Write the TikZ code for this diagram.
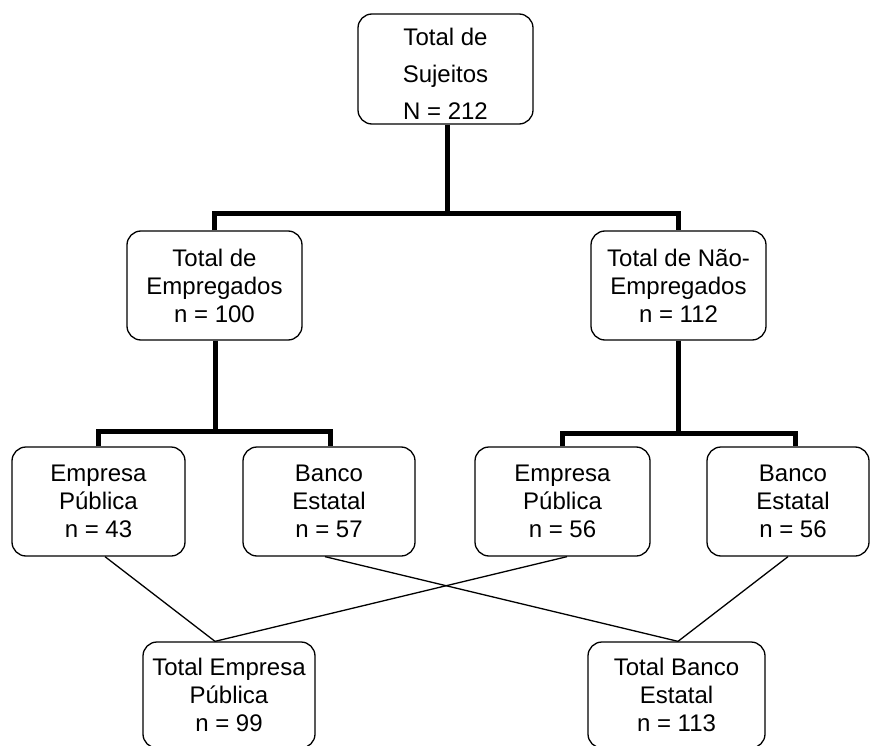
\documentclass[tikz,border=0pt]{standalone}
\usepackage{fontspec}
\setmainfont{Liberation Sans}
\usetikzlibrary{calc}
\begin{document}
\begin{tikzpicture}[x=1pt,y=-1pt,
  box/.style={draw,line width=1.3pt,rounded corners=14pt,inner sep=0pt,
    align=center,font=\fontsize{24}{28}\selectfont},
  txt/.style={inner sep=0pt,align=center},
  trunk/.style={line width=5pt},
  link/.style={line width=1.3pt}]
\useasboundingbox (0,0) rectangle (870,746);
\begin{scope}
\clip (0,0) rectangle (870,746);
% root
\node[box,minimum width=175pt,minimum height=110pt] (root) at (445.5,69) {};
\node[txt,font=\fontsize{24}{37}\selectfont] (roottxt) at (445.5,74) {Total de\\Sujeitos\\N = 212};
% second level
\node[box,minimum width=175pt,minimum height=109pt] (emp) at (214.5,285.5) {Total de\\Empregados\\n = 100};
\node[box,minimum width=175pt,minimum height=109pt] (nemp) at (678.5,285.5) {Total de Não-\\Empregados\\n = 112};
% third level
\node[box,minimum width=173pt,minimum height=109pt] (ep1) at (98.5,501.5) {Empresa\\Pública\\n = 43};
\node[box,minimum width=172pt,minimum height=109pt] (be1) at (329,501.5) {Banco\\Estatal\\n = 57};
\node[box,minimum width=175pt,minimum height=109pt] (ep2) at (562.5,501.5) {Empresa\\Pública\\n = 56};
\node[box,minimum width=162pt,minimum height=109pt] (be2) at (788,501.5) {\hspace*{10pt}Banco\\\hspace*{10pt}Estatal\\\hspace*{10pt}n = 56};
% totals
\node[box,minimum width=172pt,minimum height=106pt] (tep) at (229,695) {Total Empresa\\Pública\\n = 99};
\node[box,minimum width=177pt,minimum height=106pt] (tbe) at (676.5,695) {Total Banco\\Estatal\\n = 113};
\end{scope}
% thick tree connectors
\draw[trunk] ($(root.south)+(1.5,0)$) -- (447,214) coordinate (r1);
\draw[trunk] (emp.north) |- (r1) -| (nemp.north);
\draw[trunk] ($(emp.south)+(0.5,0)$) -- (215,431) coordinate (e1);
\draw[trunk] (ep1.north) |- (e1) -| ($(be1.north)+(1,0)$);
\draw[trunk] (nemp.south) -- (678.5,433) coordinate (n1);
\draw[trunk] (ep2.north) |- (n1) -| ($(be2.north)+(7,0)$);
% thin crossing connectors
\coordinate (jep) at ($(tep.north)+(-14,0)$);
\coordinate (jbe) at ($(tbe.north)+(1.5,0)$);
\draw[link] ($(ep1.south)+(6.5,0)$) -- (jep);
\draw[link] ($(ep2.south)+(4.5,0)$) -- (jep);
\draw[link] ($(be1.south)+(-4,0)$) -- (jbe);
\draw[link] ($(be2.south)+(0,0)$) -- (jbe);
\end{tikzpicture}
\end{document}
